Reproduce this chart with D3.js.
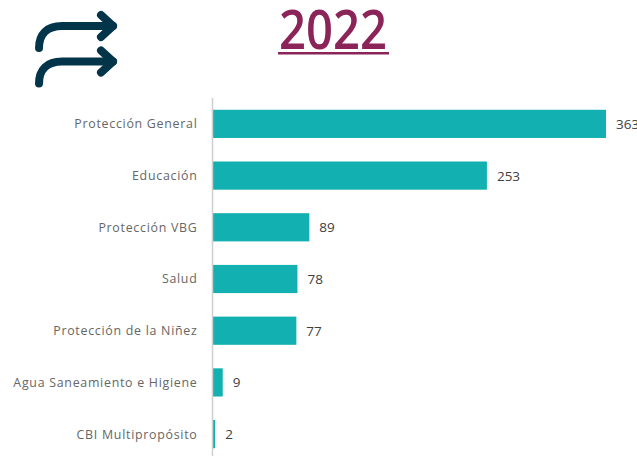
<!DOCTYPE html>
<html><head><meta charset="utf-8">
<script src="https://cdn.jsdelivr.net/npm/d3@7"></script>
<style>
html,body{margin:0;padding:0;background:#fff;overflow:hidden}
svg{display:block}
text{font-family:"Open Sans",sans-serif}
.tick line{display:none}
</style></head><body>
<script>
const categories = ["Protección General","Educación","Protección VBG","Salud","Protección de la Niñez","Agua Saneamiento e Higiene","CBI Multipropósito"];
const values = [363,253,89,78,77,9,2];
const title = "2022";

const W = 637, H = 456;
const svg = d3.select("body").append("svg").attr("width",W).attr("height",H);
const x = d3.scaleLinear().domain([0,363]).range([213,606]);
const y = d3.scaleBand().domain(categories).range([98,460]).paddingInner(0.455).paddingOuter(0.228);

// title
svg.append("text").attr("x",333).attr("y",49).attr("text-anchor","middle")
  .attr("font-size",54).attr("font-weight",600).attr("fill","#8a2459")
  .attr("textLength",108).attr("lengthAdjust","spacingAndGlyphs").text(title);
svg.append("rect").attr("x",278).attr("y",52).attr("width",111).attr("height",2.5).attr("fill","#8a2459");

// icon
const icon = svg.append("g").attr("fill","none").attr("stroke","#02344a").attr("stroke-width",8)
  .attr("stroke-linecap","round").attr("stroke-linejoin","round");
[0,35.5].forEach(dy=>{
  const g = icon.append("g").attr("transform",`translate(0,${dy})`);
  g.append("path").attr("d","M39,48C39,34 47,26 62,26L113,26");
  g.append("path").attr("d","M101,15L113,26L101,37");
});

// bars
svg.append("g").selectAll("rect").data(values).join("rect")
  .attr("x",x(0)).attr("y",(d,i)=>y(categories[i]))
  .attr("width",d=>x(d)-x(0)).attr("height",y.bandwidth()).attr("fill","#12b0b0");

// axis
const ax = svg.append("g").attr("transform","translate(212.5,0)").call(d3.axisLeft(y).tickSize(0).tickPadding(15));
ax.select(".domain").attr("stroke","#cfcfcf").attr("stroke-width",1.5).attr("d","M0,98V456");
ax.selectAll("text").attr("font-size",12.4).attr("fill","#666").attr("dy","0.36em")
  .style("letter-spacing","0.72px").style("font-family",'"Open Sans",sans-serif');

// labels
svg.append("g").selectAll("text").data(values).join("text")
  .attr("x",d=>x(d)+10).attr("y",(d,i)=>y(categories[i])+y.bandwidth()/2+5)
  .attr("font-size",13.5).attr("fill","#404040").text(d=>d);
</script>
</body></html>
